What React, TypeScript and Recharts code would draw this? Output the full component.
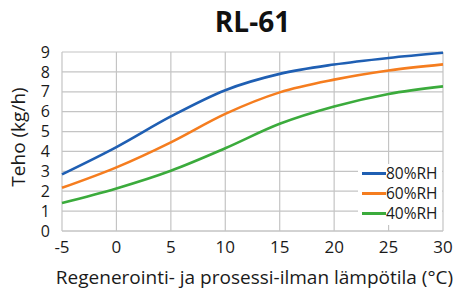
import React from 'react';
import { LineChart, Line, XAxis, YAxis, CartesianGrid } from 'recharts';

const temps = [-5, 0, 5, 10, 15, 20, 25, 30];
const rh80 = [2.85, 4.22, 5.76, 7.08, 7.9, 8.37, 8.7, 8.96];
const rh60 = [2.17, 3.2, 4.46, 5.89, 6.97, 7.61, 8.07, 8.38];
const rh40 = [1.41, 2.14, 3.03, 4.16, 5.39, 6.26, 6.89, 7.27];
const yTicks = [0, 1, 2, 3, 4, 5, 6, 7, 8, 9];

const seriesInfo = [
  { key: 'rh80', name: '80%RH', color: '#1f5fb3' },
  { key: 'rh60', name: '60%RH', color: '#f57d1f' },
  { key: 'rh40', name: '40%RH', color: '#3bab3c' },
];

const data = temps.map((t, i) => ({ t, rh80: rh80[i], rh60: rh60[i], rh40: rh40[i] }));

const FONT = '"Open Sans", sans-serif';
const TEXT = '#1a1a1a';

export default function App() {
  return (
    <div style={{ position: 'absolute', left: 0, top: 0, width: 457, height: 296, background: '#fff' }}>
      <div style={{ position: 'absolute', left: 0, top: 2, width: 505, textAlign: 'center', fontFamily: FONT, fontWeight: 700, fontSize: 28, lineHeight: 'normal', color: '#111' }}>
        RL-61
      </div>
      <LineChart width={457} height={296} data={data} margin={{ top: 52, right: 14, bottom: 35, left: 22 }}>
        <CartesianGrid stroke="#c4c4c4" strokeWidth={1.2} vertical horizontal />
        <XAxis
          dataKey="t"
          type="number"
          domain={[-5, 30]}
          ticks={temps}
          axisLine={{ stroke: '#c4c4c4' }}
          tickLine={false}
          tick={{ fontFamily: FONT, fontSize: 17, fill: TEXT }}
          tickMargin={4}
          height={30}
          interval={0}
        />
        <YAxis
          type="number"
          domain={[0, 9]}
          ticks={yTicks}
          axisLine={false}
          tickLine={false}
          tick={{ fontFamily: FONT, fontSize: 16, fill: TEXT }}
          tickMargin={6}
          width={40}
          interval={0}
        />
        {seriesInfo.map((s) => (
          <Line
            key={s.key}
            type="monotone"
            dataKey={s.key}
            name={s.name}
            stroke={s.color}
            strokeWidth={2.6}
            dot={false}
            isAnimationActive={false}
          />
        ))}
      </LineChart>
      <div style={{ position: 'absolute', left: 358, top: 164, width: 84, background: '#fff', fontFamily: FONT, fontSize: 15.5, color: TEXT, padding: '0 0 2px 0' }}>
        {seriesInfo.map((s) => (
          <div key={s.key} style={{ display: 'flex', alignItems: 'center', height: 19.7, lineHeight: '19px' }}>
            <span style={{ display: 'inline-block', marginLeft: 4, width: 24, height: 3, background: s.color }} />
            <span>{s.name}</span>
          </div>
        ))}
      </div>
      <div style={{ position: 'absolute', left: 0, top: 264, width: 509, textAlign: 'center', fontFamily: FONT, fontSize: 19, lineHeight: 'normal', color: TEXT }}>
        Regenerointi- ja prosessi-ilman lämpötila (°C)
      </div>
      <div style={{ position: 'absolute', left: 18, top: 137, transform: 'translate(-50%, -50%) rotate(-90deg)', whiteSpace: 'nowrap', fontFamily: FONT, fontSize: 19, lineHeight: 'normal', color: TEXT }}>
        Teho (kg/h)
      </div>
    </div>
  );
}
